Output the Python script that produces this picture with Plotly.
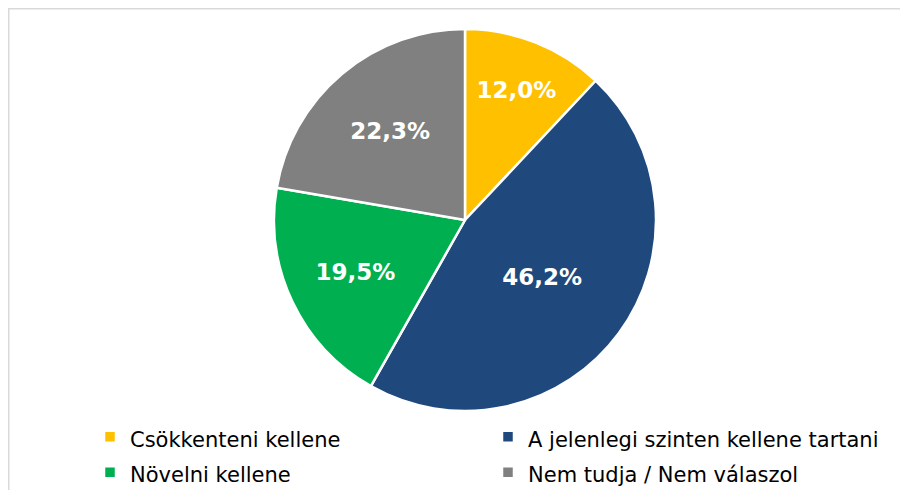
import plotly.graph_objects as go

labels = ["Csökkenteni kellene", "A jelenlegi szinten kellene tartani",
          "Növelni kellene", "Nem tudja / Nem válaszol"]
values = [12.0, 46.2, 19.5, 22.3]
colors = ["#FFC000", "#1F497D", "#00B050", "#808080"]

W, H = 908, 490

# legend rows in the reference are taller than plotly's default line height,
# so the legend font is large and the label text itself is sized down
legend_labels = ['<span style="font-size:21px">%s</span>' % s for s in labels]

fig = go.Figure(go.Pie(
    labels=legend_labels,
    values=values,
    customdata=labels,
    sort=False,
    direction="clockwise",
    rotation=0,
    marker=dict(colors=colors, line=dict(color="white", width=2.5)),
    texttemplate="%{value:.1f}%",
    textposition="inside",
    insidetextorientation="horizontal",
    textfont=dict(family="Verdana, DejaVu Sans", size=23, color="white", weight="bold"),
    domain=dict(x=[266 / W, 648 / W], y=[87 / H, 469 / H]),
    hovertemplate="%{customdata}: %{value:.1f}%<extra></extra>",
))

fig.update_layout(
    width=W, height=H,
    margin=dict(l=0, r=0, t=0, b=0),
    paper_bgcolor="white",
    separators=", ",
    font=dict(family="Verdana, DejaVu Sans", size=21, color="#000000"),
    legend=dict(
        orientation="h",
        x=82 / W, y=3 / H,
        xanchor="left", yanchor="bottom",
        entrywidth=353, entrywidthmode="pixels",
        bgcolor="rgba(0,0,0,0)",
        itemclick=False,
        font=dict(size=25),
    ),
    shapes=[
        dict(type="line", xref="paper", yref="paper", x0=0, x1=1, y0=1 - 0.75 / H, y1=1 - 0.75 / H,
             line=dict(color="#D9D9D9", width=1.5)),
        dict(type="line", xref="paper", yref="paper", x0=0.75 / W, x1=0.75 / W, y0=0, y1=1,
             line=dict(color="#D9D9D9", width=1.5)),
    ],
)

fig.write_html("out.html")
